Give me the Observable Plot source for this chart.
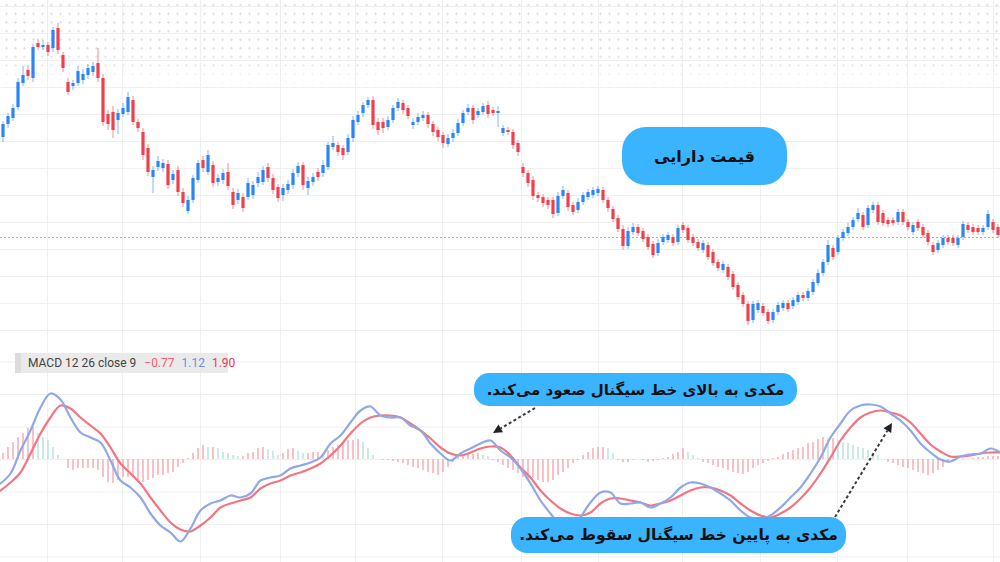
<!DOCTYPE html>
<html><head><meta charset="utf-8">
<script src="https://cdn.jsdelivr.net/npm/d3@7"></script>
<script src="https://cdn.jsdelivr.net/npm/@observablehq/plot@0.6"></script>
<style>
body{margin:0;background:#fff;}
#wrap{position:relative;width:1000px;height:562px;overflow:hidden;background:#fff;}
#dots{position:absolute;left:0;top:0;width:1000px;height:90px;
 background-image:radial-gradient(circle, #e2e2e2 1px, rgba(255,255,255,0) 1.4px);
 background-size:9px 8.6px;background-position:2px 1px;
 -webkit-mask-image:linear-gradient(to bottom, #000 0%, #000 55%, transparent 100%);
 mask-image:linear-gradient(to bottom, #000 0%, #000 55%, transparent 100%);}
.panel{position:absolute;left:0;}
.bubble{position:absolute;background:#3bb4ff;color:#111;font-family:"DejaVu Sans",sans-serif;font-weight:bold;
 direction:rtl;display:flex;align-items:center;justify-content:center;white-space:nowrap;}
#macdlbl{position:absolute;left:15px;top:353px;width:213px;height:20px;background:rgba(232,232,232,0.9);
 border-left:6px solid #dcdcdc;box-sizing:border-box;font-family:Roboto,"Noto Sans",sans-serif;font-size:12px;
 line-height:20px;color:#444;padding-left:7px;white-space:nowrap;}
</style></head>
<body>
<div id="wrap">
 <div id="dots"></div>
 <div id="price" class="panel" style="top:0"></div>
 <div id="macd" class="panel" style="top:345px"></div>
 <div id="macdlbl"></div>
 <div class="bubble" id="b1" style="left:622px;top:127px;width:165px;height:58px;border-radius:24px;font-size:16px;"></div>
 <div class="bubble" id="b2" style="left:474px;top:373px;width:323px;height:33px;border-radius:15px;font-size:15px;"></div>
 <div class="bubble" id="b3" style="left:511px;top:517px;width:335px;height:36px;border-radius:16px;font-size:15.5px;"></div>
</div>
<script>
// ---- candle data (price units) ----
const open = [263,276,282,293,317,330,322,357,353,355, 352,372,345,318,314,317,320,325,328,337,
 322,286,288,280,286,288,300,278,268,252, 223,233,232,236,220,230,208,189,200,220,
 240,228,235,218,220,228,208,200,203,203, 205,217,218,233,222,213,205,210,215,227,
 235,212,218,228,227,233,253,255,252,248, 262,278,287,295,300,278,278,273,280,292,
 297,292,275,278,282,285,276,270,265,256, 262,267,277,288,292,285,288,295,290,287,
 267,270,268,257,233,227,220,205,203,200, 200,187,204,207,195,190,198,203,205,207,
 210,200,191,182,171,154,168,173,169,163, 156,147,158,160,163,158,175,172,163,158,
 150,155,148,138,130,133,126,115,105,96, 80,90,94,88,80,88,92,97,94,98,
 105,102,108,117,127,138,152,148,162,167, 173,181,185,175,190,195,187,180,180,178,
 188,178,168,178,173,167,155,150,155,162, 162,155,163,175,173,172,168,173,178,173];
const close = [276,284,292,318,325,324,353,353,355,348, 370,350,332,308,317,329,326,332,334,322,
 278,276,270,287,292,303,278,272,245,228, 230,239,237,215,226,208,197,200,222,237,
 232,245,217,222,227,214,195,207,192,217, 215,223,230,222,210,202,212,216,227,234,
 215,219,223,223,235,255,257,248,245,262, 280,285,295,300,275,270,272,280,292,298,
 290,284,278,283,285,276,268,263,257,262, 267,277,287,292,280,289,294,286,287,289,
 272,268,255,248,227,217,204,202,197,195, 186,204,210,193,188,198,205,208,210,211,
 200,192,181,171,154,169,173,167,161,153, 145,157,163,165,157,172,170,160,157,152,
 157,143,137,132,136,123,113,103,96,79, 96,97,87,79,88,95,97,91,100,105,
 102,109,118,127,138,155,143,162,168,173, 180,187,173,192,195,178,177,176,177,188,
 178,173,175,172,165,158,148,157,162,158, 157,162,176,170,168,168,172,186,170,165];
const high = [279,287,296,322,334,335,356,361,360,358, 373,377,348,322,320,334,331,336,338,352,
 326,290,294,291,297,308,304,281,272,256, 234,244,241,240,230,234,212,204,225,240,
 244,250,239,226,231,237,212,211,207,222, 219,228,234,237,226,216,216,220,231,238,
 238,223,227,232,240,258,264,258,255,266, 284,289,298,303,304,282,282,284,295,302,
 300,295,282,287,289,288,279,273,268,266, 271,281,290,296,295,292,297,299,293,294,
 275,273,271,260,237,230,224,208,206,203, 203,208,214,210,198,202,208,211,213,214,
 213,203,194,185,175,173,177,176,172,166, 159,161,166,168,166,175,178,175,166,161,
 160,158,151,141,139,136,129,118,108,99, 99,100,97,91,91,98,100,100,103,108,
 108,112,121,131,141,160,155,165,171,177, 183,192,188,195,198,198,190,183,183,191,
 191,181,178,181,176,170,158,160,165,165, 165,165,179,178,176,175,175,190,181,176];
const low = [258,272,279,290,314,320,318,350,350,344, 348,346,328,305,310,314,316,321,324,318,
 274,270,262,266,283,285,275,268,240,224, 207,229,228,211,216,204,193,186,197,217,
 228,225,213,214,216,210,191,196,188,200, 201,213,215,218,206,198,199,206,211,223,
 210,205,214,219,223,230,250,244,240,245, 258,275,283,292,271,265,267,270,277,289,
 286,281,271,275,279,272,264,259,252,253, 258,264,274,285,276,282,285,282,284,273,
 264,265,251,244,223,213,200,198,193,191, 182,184,201,189,185,187,195,200,202,204,
 197,188,178,168,150,151,165,164,158,150, 142,144,155,157,154,155,167,157,154,149,
 147,140,134,129,127,120,110,100,93,75, 77,87,84,76,77,85,89,88,91,95,
 99,99,105,114,124,135,140,145,159,164, 170,178,170,172,187,175,174,173,174,175,
 175,170,165,169,162,155,145,147,152,155, 154,152,160,167,165,165,165,170,167,162];
const lastPrice = 163;

// ---- MACD data (sampled every 2 bars for the lines) ----
const macdLine = [-2.4,-1.4,0.9,2.9,5.2,6.6,6.0,4.2,2.7,2.2, 1.7,-0.1,-2.1,-2.8,-3.8,-5.4,-6.6,-7.3,-8.2,-6.9,
 -5.1,-4.4,-4.1,-3.6,-3.8,-3.4,-2.1,-1.8,-1.6,-0.9, -0.6,-0.3,0.2,1.6,2.4,3.7,4.9,5.3,4.4,4.2,
 4.2,3.4,2.9,1.6,0.6,-0.1,0.6,1.1,1.6,1.9, 0.9,0.2,-0.9,-2.4,-4.1,-5.4,-6.6,-7.3,-5.8,-4.3,
 -3.3,-3.3,-4.4,-4.4,-4.3,-4.8,-4.4,-3.8,-2.8,-2.3, -2.4,-2.8,-3.4,-4.1,-5.1,-5.8,-6.0,-5.6,-4.8,-3.8,
 -2.8,-1.4,0.2,2.2,3.6,4.9,5.4,5.5,5.3,4.6, 3.9,2.9,1.6,0.7,0.0,-0.2,0.3,0.5,0.6,1.1, 0.7];
const signalLine = [-3.1,-2.3,-1.3,0.6,2.6,4.2,5.4,5.1,4.2,3.4, 2.6,1.2,-0.4,-1.4,-2.4,-3.8,-5.1,-6.3,-7.0,-7.2,
 -6.6,-5.8,-4.8,-4.4,-4.1,-3.8,-2.9,-2.4,-2.1,-1.6, -1.3,-0.9,-0.4,0.4,1.4,2.6,3.6,4.2,4.4,4.4,
 4.2,3.6,2.9,2.1,1.2,0.6,0.4,0.7,1.1,1.3, 1.2,0.4,-0.8,-1.8,-3.1,-4.1,-4.9,-5.4,-5.6,-5.3,
 -4.4,-3.9,-3.9,-4.1,-4.3,-4.6,-4.4,-4.1,-3.6,-3.1, -2.8,-2.8,-3.1,-3.6,-4.4,-5.1,-5.6,-5.8,-5.4,-4.8,
 -3.9,-2.8,-1.4,0.2,1.9,3.2,4.2,4.7,4.9,4.7, 4.4,3.7,2.6,1.5,0.8,0.3,0.3,0.4,0.6,0.7, 0.7];
const histogram = [0.6,1.2,1.7,2.2,2.6,3.1,3.2,2.6,2.2,1.9, 1.2,0.4,0,-0.9,-1.1,-0.9,-0.9,-0.9,-0.9,-1.1,
 -1.8,-2.3,-2.4,-2.1,-1.8,-1.8,-1.9,-2.3,-2.3,-2.1, -1.9,-1.6,-1.6,-1.4,-1.3,-0.8,-0.4,0.1,0.6,1.1,
 1.4,1.2,1.2,1.1,0.7,0.6,0.4,0.3,0.3,0.6, 0.7,1.1,1.2,1.0,0.8,0.4,0.6,1.0,1.1,0.8,
 0.6,0.6,0.7,0.7,0.6,0.9,1.2,1.4,1.7,1.9, 1.9,2.0,1.7,1.1,0.4,0,-0.1,-0.1,-0.2,-0.3,
 -0.4,-0.6,-0.8,-0.9,-1.1,-1.3,-1.4,-1.6,-1.3,-0.8, -0.3,0.2,0.4,0.5,0.5,0.6,0.4,0.3,-0.1,-0.3,
 -0.6,-0.9,-1.1,-1.4,-1.8,-1.9,-1.9,-2.1,-2.3,-2.3, -2.1,-1.6,-1.3,-0.9,-0.4,-0.1,0.4,0.7,1.1,1.2,
 1.2,1.1,0.6,-0.1,-0.3,-0.3,-0.1,0,-0.1,-0.3, -0.2,-0.1,0.1,0.2,0.5,0.7,1.1,0.7,0.4,0.1,
 -0.3,-0.4,-0.6,-0.8,-0.9,-1.1,-1.3,-1.4,-1.5,-1.3, -0.9,-0.6,-0.4,-0.2,0.1,0.2,0.5,0.7,0.9,1.1,
 1.2,1.6,1.7,2.0,2.2,2.1,2.1,1.9,1.7,1.6, 1.4,1.2,1.1,0.9,0.6,0.4,0,-0.3,-0.4,-0.6,
 -0.8,-0.9,-1.1,-1.3,-1.4,-1.6,-1.4,-1.1,-0.8,-0.4, -0.1,0,0.1,0,0.1,0.2,0.2,0.3,0.3,0.3];

// ---- ticks / grid ----
const timeTicks = [9.4,24.4,40,56,71,88.4,104.2,119.6,136.4,152,167.4,181.4,198.6];
const priceTicks = [70,97,124,151,178,205,232,259,286,313,340,367,394];
const macdTicks = [-9.75,-6.5,-3.25,0,3.25,6.5,9.75];

// ---- texts ----
const macdLabel = {name:"MACD 12 26 close 9", hist:"\u22120.77", macd:"1.12", signal:"1.90"};
const notes = {
  price: "قیمت دارایی",
  up: "مکدی به بالای خط سیگنال صعود می\u200cکند.",
  down: "مکدی به پایین خط سیگنال سقوط می\u200cکند."
};
const arrows = [
  {t1:107, m1:5.1, t2:98.6, m2:2.6},
  {t1:167, m1:-5.8, t2:178.4, m2:3.6}
];

const UP = "#2b86f5", DOWN = "#f0404c";
const GRID = "#efefef";

const candles = open.map((o,i) => ({t:i+0.5, open:o, close:close[i], high:high[i], low:low[i],
  col: close[i] >= o ? UP : DOWN}));

const pricePlot = Plot.plot({
  width:1000, height:345, margin:0,
  style:{background:"transparent", overflow:"visible"},
  x:{domain:[0,200], axis:null},
  y:{domain:[55,400], axis:null},
  color:{type:"identity"},
  marks:[
    Plot.ruleY(priceTicks, {stroke:GRID, strokeWidth:1}),
    Plot.ruleX(timeTicks, {stroke:GRID, strokeWidth:1}),
    Plot.ruleY([lastPrice], {stroke:"#f28f98", strokeWidth:1, strokeDasharray:"2,2"}),
    Plot.ruleX(candles, {x:"t", y1:"low", y2:"high", stroke:"col", strokeOpacity:0.6, strokeWidth:1}),
    Plot.ruleX(candles, {x:"t", y1:"open", y2:"close", stroke:"col", strokeWidth:3.2})
  ]
});
document.getElementById("price").append(pricePlot);

const lineData = macdLine.map((m,k) => ({t:k*2, macd:m, signal:signalLine[k]}));
const PINK = "#f7a6ae", TEAL = "#b6e1db";
const histData = histogram.map((h,i) => ({t:i+0.5, h,
  col: h > 0 && i > 0 && h < histogram[i-1] ? TEAL : PINK}));

const macdPlot = Plot.plot({
  width:1000, height:217, margin:0,
  style:{background:"transparent", overflow:"visible"},
  x:{domain:[0,200], axis:null},
  y:{domain:[-10.3,11.4], axis:null},
  color:{type:"identity"},
  marks:[
    Plot.ruleY(macdTicks, {stroke:GRID, strokeWidth:1}),
    Plot.ruleX(timeTicks, {stroke:GRID, strokeWidth:1}),
    Plot.ruleX(histData, {x:"t", y1:0, y2:"h", stroke:"col", strokeWidth:1.4}),
    Plot.line(lineData, {x:"t", y:"signal", stroke:"#f27582", strokeWidth:2.2, curve:"catmull-rom"}),
    Plot.line(lineData, {x:"t", y:"macd", stroke:"#8fa8e6", strokeWidth:2.2, curve:"catmull-rom"})
  ]
});
document.getElementById("macd").append(macdPlot);

// dotted annotation arrows, placed with the plot's own scales
const xs = macdPlot.scale("x"), ys = macdPlot.scale("y");
const svg = d3.select(macdPlot);
for (const a of arrows) {
  const x1 = xs.apply(a.t1), y1 = ys.apply(a.m1), x2 = xs.apply(a.t2), y2 = ys.apply(a.m2);
  const ang = Math.atan2(y2 - y1, x2 - x1), L = 9, W = 4.5;
  const bx = x2 - L*Math.cos(ang), by = y2 - L*Math.sin(ang);
  svg.append("line").attr("x1",x1).attr("y1",y1).attr("x2",bx).attr("y2",by)
    .attr("stroke","#3a3a3a").attr("stroke-width",2).attr("stroke-dasharray","3,2.5");
  svg.append("polygon").attr("fill","#222")
    .attr("points", [[x2,y2],[bx + W*Math.sin(ang), by - W*Math.cos(ang)],[bx - W*Math.sin(ang), by + W*Math.cos(ang)]].map(p=>p.join(",")).join(" "));
}

// texts
const lbl = document.getElementById("macdlbl");
lbl.innerHTML = `<span>${macdLabel.name}</span><span style="color:#f0606e;margin-left:8px">${macdLabel.hist}</span>` +
  `<span style="color:#6f8fd8;margin-left:7px">${macdLabel.macd}</span><span style="color:#e8384d;margin-left:7px">${macdLabel.signal}</span>`;
document.getElementById("b1").textContent = notes.price;
document.getElementById("b2").textContent = notes.up;
document.getElementById("b3").textContent = notes.down;
</script>
</body></html>
